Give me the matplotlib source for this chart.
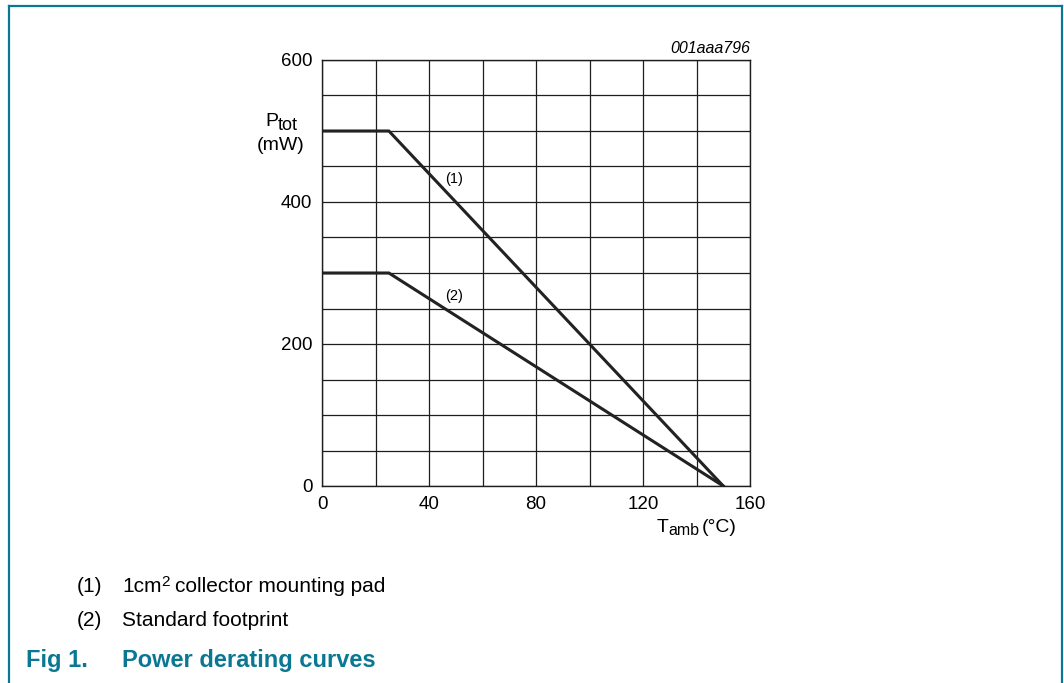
import numpy as np
import matplotlib.pyplot as plt
from matplotlib.lines import Line2D

plt.rcParams['font.family'] = ['Liberation Sans', 'DejaVu Sans']

# derating curves
t_amb = [0, 25, 150]
p_pad = [500, 500, 0]     # (1) 1cm2 collector mounting pad
p_std = [300, 300, 0]     # (2) standard footprint

x_ticks = [0, 40, 80, 120, 160]
y_ticks = [0, 200, 400, 600]

teal = '#0b7893'

fig = plt.figure(figsize=(10.64, 6.83), dpi=100)
W, H = 1064, 683


def px(x, y, s, **kw):
    # text placed in pixel coords of the figure (origin top-left)
    kw.setdefault('va', 'baseline')
    return fig.text(x / W, 1 - y / H, s, **kw)


# frame around the figure (open at the bottom)
fig.add_artist(Line2D([9/W, 9/W], [0, 1 - 6/H], color=teal, lw=1.6))
fig.add_artist(Line2D([9/W, 1062/W], [1 - 6/H, 1 - 6/H], color=teal, lw=1.6))
fig.add_artist(Line2D([1062/W, 1062/W], [0, 1 - 6/H], color=teal, lw=1.6))

ax = fig.add_axes([322/W, 1 - 486/H, 428/W, 426/H])
ax.set_xlim(0, 160)
ax.set_ylim(0, 600)
ax.set_xticks(np.arange(0, 161, 20))
ax.set_yticks(np.arange(0, 601, 50))
ax.grid(True, color='#1e1e1e', lw=0.9)
ax.tick_params(length=0, labelsize=13.5, pad=7)
ax.set_xticklabels([str(v) if v in x_ticks else '' for v in range(0, 161, 20)])
ax.set_yticklabels([str(v) if v in y_ticks else '' for v in range(0, 601, 50)])
for s in ax.spines.values():
    s.set_color('#1e1e1e')
    s.set_linewidth(1.0)

ax.plot(t_amb, p_pad, color='#222222', lw=2.2, solid_joinstyle='miter')
ax.plot(t_amb, p_std, color='#222222', lw=2.2, solid_joinstyle='miter')
ax.text(49.5, 432, '(1)', fontsize=10.5, ha='center', va='center')
ax.text(49.5, 267, '(2)', fontsize=10.5, ha='center', va='center')

ax.text(160, 605, '001aaa796', fontsize=11.5, style='italic', ha='right', va='bottom')

# axis titles
px(265, 126, 'P', fontsize=14)
px(278, 130, 'tot', fontsize=13)
px(257, 150, '(mW)', fontsize=14)
px(657, 532, 'T', fontsize=14)
px(668, 535, 'amb', fontsize=11.5)
px(702, 532, '(°C)', fontsize=14)

# notes and caption
px(77, 592, '(1)', fontsize=15)
px(122, 592, '1cm', fontsize=15)
px(161, 586, '2', fontsize=11)
px(175, 592, 'collector mounting pad', fontsize=15)
px(77, 626, '(2)', fontsize=15)
px(122, 626, 'Standard footprint', fontsize=15)
px(26, 667, 'Fig 1.', fontsize=17, fontweight='bold', color=teal)
px(122, 667, 'Power derating curves', fontsize=17, fontweight='bold', color=teal)

fig.savefig('out.png', dpi=100)
